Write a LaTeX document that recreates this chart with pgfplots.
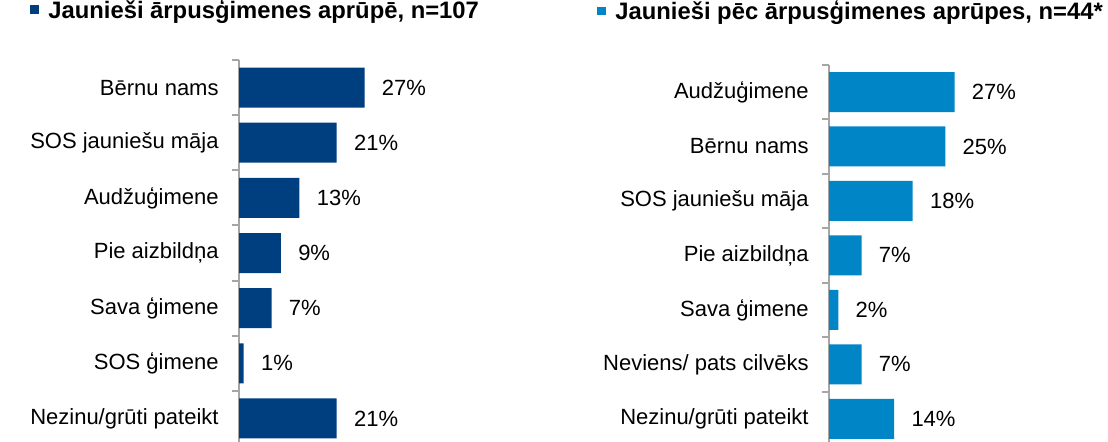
\documentclass[border=0pt]{standalone}
\usepackage{pgfplots}
\pgfplotsset{compat=1.18}
\usepackage{fontspec}
\setmainfont{Liberation Sans}
\definecolor{leftblue}{HTML}{003F7F}
\definecolor{rightblue}{HTML}{0086C6}
\definecolor{axisgray}{HTML}{A6A6A6}

\pgfplotsset{
  catbars/.style={
    xbar, scale only axis, width=69.75pt, xmin=0, xmax=30,
    ymin=-0.5, ymax=6.5, y dir=reverse,
    bar width=20pt,
    axis x line=none, axis y line*=left,
    axis line style={draw=axisgray, line width=1pt},
    ytick={0,...,6}, major tick length=0pt,
    minor ytick={-0.5,0.5,...,6.5}, minor tick length=3.5pt, tick align=outside,
    minor tick style={draw=axisgray, line width=1pt},
    yticklabel style={font=\fontsize{11}{13}\selectfont, inner sep=0pt, xshift=-10pt},
    nodes near coords={\pgfmathprintnumber{\pgfplotspointmeta}\%},
    every node near coord/.append style={font=\fontsize{11}{13}\selectfont, anchor=west, inner sep=0pt, xshift=8.5pt},
    /pgf/number format/assume math mode=true,
    clip=false,
    title style={anchor=base west, at={(0,1)}, inner sep=0pt, font=\bfseries\fontsize{11.9}{14}\selectfont},
  }
}

\begin{document}
\begin{tikzpicture}
\path[use as bounding box] (0,0) rectangle (554pt,-220.5pt);

% jaunieši ārpusģimenes aprūpē
\begin{axis}[catbars,
    at={(119.5pt,-30pt)}, anchor=north west, height=193pt,
    yticklabels={Bērnu nams, SOS jauniešu māja, Audžuģimene, Pie aizbildņa, Sava ģimene, SOS ģimene, Nezinu/grūti pateikt},
    title={\textcolor{leftblue}{\rule[2.15pt]{4.5pt}{4.2pt}}\hspace{4.5pt}Jaunieši ārpusģimenes aprūpē, n=107},
    title style={xshift=-104.5pt, yshift=15pt},
]
\addplot[fill=leftblue, draw=none] coordinates {
    (27,0) (21,1) (13,2) (9,3) (7,4) (1,5) (21,6)
};
\end{axis}

% jaunieši pēc ārpusģimenes aprūpes
\begin{axis}[catbars,
    at={(414.5pt,-32.4pt)}, anchor=north west, height=190.6pt,
    yticklabels={Audžuģimene, Bērnu nams, SOS jauniešu māja, Pie aizbildņa, Sava ģimene, Neviens/ pats cilvēks, Nezinu/grūti pateikt},
    title={\textcolor{rightblue}{\rule[2.15pt]{4.5pt}{4.2pt}}\hspace{4.5pt}Jaunieši pēc ārpusģimenes aprūpes, n=44*},
    title style={xshift=-116pt, yshift=16.55pt},
]
\addplot[fill=rightblue, draw=none] coordinates {
    (27,0) (25,1) (18,2) (7,3) (2,4) (7,5) (14,6)
};
\end{axis}
\end{tikzpicture}
\end{document}
